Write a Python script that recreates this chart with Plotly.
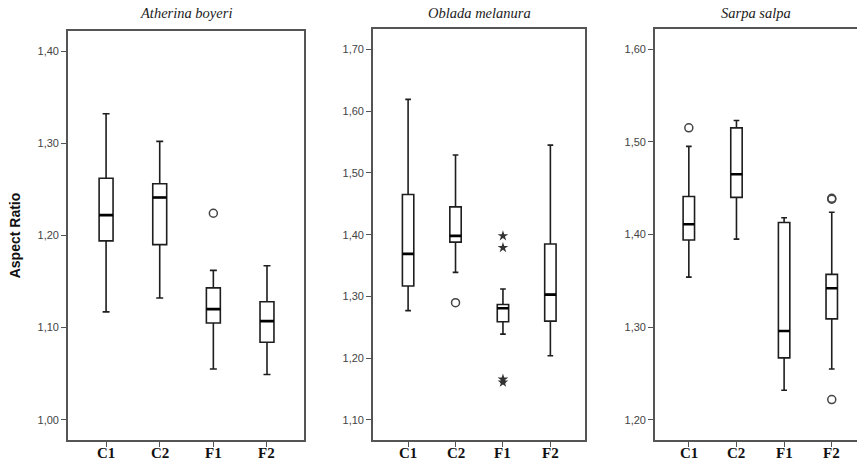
import plotly.graph_objects as go

categories = ["C1", "C2", "F1", "F2"]
species = ["Atherina boyeri", "Oblada melanura", "Sarpa salpa"]

# Atherina boyeri
ab_q1 = [1.194, 1.190, 1.105, 1.084]
ab_med = [1.222, 1.241, 1.120, 1.107]
ab_q3 = [1.262, 1.256, 1.143, 1.128]
ab_lo = [1.117, 1.132, 1.055, 1.049]
ab_hi = [1.332, 1.302, 1.162, 1.167]
ab_out_x = ["F1"]
ab_out_y = [1.224]

# Oblada melanura
om_q1 = [1.317, 1.388, 1.259, 1.260]
om_med = [1.369, 1.398, 1.281, 1.303]
om_q3 = [1.465, 1.445, 1.287, 1.385]
om_lo = [1.277, 1.339, 1.239, 1.204]
om_hi = [1.619, 1.529, 1.312, 1.545]
om_out_x = ["C2"]
om_out_y = [1.290]
om_ext_x = ["F1", "F1", "F1", "F1"]
om_ext_y = [1.398, 1.379, 1.166, 1.161]

# Sarpa salpa
ss_q1 = [1.394, 1.440, 1.267, 1.309]
ss_med = [1.411, 1.465, 1.296, 1.342]
ss_q3 = [1.441, 1.515, 1.413, 1.357]
ss_lo = [1.354, 1.395, 1.232, 1.255]
ss_hi = [1.495, 1.523, 1.418, 1.424]
ss_out_x = ["C1", "F2", "F2", "F2"]
ss_out_y = [1.515, 1.438, 1.439, 1.222]

panels = [
    dict(q1=ab_q1, med=ab_med, q3=ab_q3, lo=ab_lo, hi=ab_hi, ox=ab_out_x, oy=ab_out_y, ex=[], ey=[],
         yr=[0.978, 1.4217], ydt=[1.0, 1.1, 1.2, 1.3, 1.4], xr=[-0.71, 3.69], xd=[68/857, 304/857],
         ydom=[22/462, 431/462], bw=0.26),
    dict(q1=om_q1, med=om_med, q3=om_q3, lo=om_lo, hi=om_hi, ox=om_out_x, oy=om_out_y, ex=om_ext_x, ey=om_ext_y,
         yr=[1.0676, 1.733], ydt=[1.1, 1.2, 1.3, 1.4, 1.5, 1.6, 1.7], xr=[-0.74, 3.73], xd=[373/857, 585/857],
         ydom=[22/462, 433/462], bw=0.24),
    dict(q1=ss_q1, med=ss_med, q3=ss_q3, lo=ss_lo, hi=ss_hi, ox=ss_out_x, oy=ss_out_y, ex=[], ey=[],
         yr=[1.1784, 1.6216], ydt=[1.2, 1.3, 1.4, 1.5, 1.6], xr=[-0.71, 3.53], xd=[655/857, 1.0],
         ydom=[22/462, 433/462], bw=0.24),
]

fig = go.Figure()
layout = dict(
    width=857, height=462, margin=dict(l=0, r=0, t=0, b=0, autoexpand=False),
    paper_bgcolor="white", plot_bgcolor="white", showlegend=False,
    separators=",.", annotations=[],
)

for i, p in enumerate(panels):
    n = "" if i == 0 else str(i + 1)
    xa, ya = "x" + n, "y" + n
    fig.add_trace(go.Box(
        x=categories, q1=p["q1"], median=p["med"], q3=p["q3"],
        lowerfence=p["lo"], upperfence=p["hi"], width=p["bw"], whiskerwidth=0.5,
        boxpoints=False, fillcolor="white", line=dict(color="#1e1e1e", width=1.6),
        xaxis=xa, yaxis=ya, hoverinfo="skip"))
    fig.add_trace(go.Box(
        x=categories, q1=p["med"], median=p["med"], q3=p["med"],
        lowerfence=p["med"], upperfence=p["med"], width=p["bw"], whiskerwidth=0,
        boxpoints=False, fillcolor="rgba(0,0,0,0)", line=dict(color="black", width=2.6),
        xaxis=xa, yaxis=ya, hoverinfo="skip"))
    fig.add_trace(go.Scatter(
        x=p["ox"], y=p["oy"], mode="markers",
        marker=dict(symbol="circle-open", size=8, color="#444", line=dict(width=1.5)),
        xaxis=xa, yaxis=ya, hoverinfo="skip"))
    if p["ex"]:
        fig.add_trace(go.Scatter(
            x=p["ex"], y=p["ey"], mode="markers",
            marker=dict(symbol="star", size=8, color="#333"),
            xaxis=xa, yaxis=ya, hoverinfo="skip"))
    layout["xaxis" + n] = dict(
        domain=p["xd"], anchor=ya, range=p["xr"], type="category",
        categoryorder="array", categoryarray=categories, automargin=False,
        showline=True, linecolor="#555", linewidth=1.6, mirror=True,
        ticks="outside", ticklen=5, tickcolor="#555", tickwidth=1.2,
        showgrid=False, zeroline=False, showticklabels=False,
    )
    layout["yaxis" + n] = dict(
        domain=p["ydom"], anchor=xa, range=p["yr"], tickvals=p["ydt"], tickformat=".2f",
        automargin=False,
        showline=True, linecolor="#555", linewidth=1.6, mirror=(i < 2),
        ticks="outside", ticklen=5, tickcolor="#555", tickwidth=1.2,
        showgrid=False, zeroline=False,
        tickfont=dict(family="Liberation Sans", size=11, color="#444"),
    )
    layout["annotations"].append(dict(
        text="<i>" + species[i] + "</i>", xref="x" + n + " domain", yref="paper",
        x=0.5, y=1 - 13 / 462, xanchor="center", yanchor="middle", showarrow=False,
        font=dict(family="Liberation Serif", size=14.5, color="#222")))
    for c in categories:
        layout["annotations"].append(dict(
            text="<b>" + c + "</b>", xref=xa, yref="paper", x=c, y=1 - 453 / 462,
            xanchor="center", yanchor="middle", showarrow=False,
            font=dict(family="Liberation Serif", size=15, color="#111")))

layout["yaxis"]["title"] = dict(
    text="<b>Aspect Ratio</b>", standoff=14,
    font=dict(family="Liberation Sans", size=14, color="#111"))

fig.update_layout(**layout)
fig.write_html("out.html", config={"displayModeBar": False},
               post_script="document.body.style.margin='0';document.body.style.overflow='hidden';")
